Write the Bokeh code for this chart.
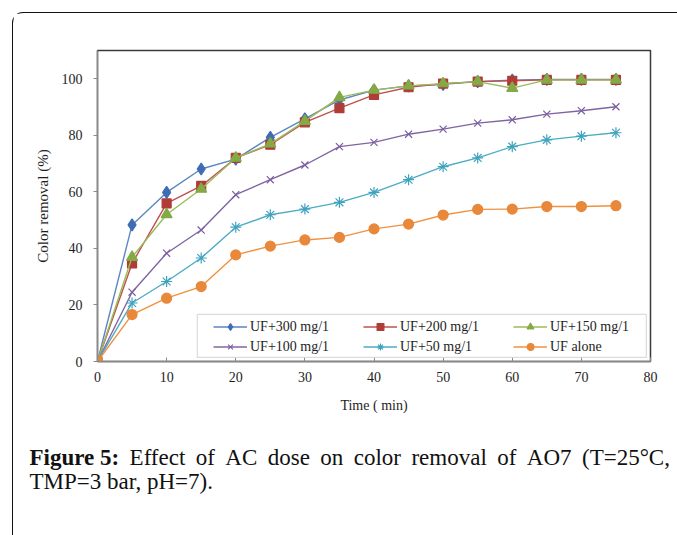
from bokeh.plotting import figure
from bokeh.layouts import column
from bokeh.models import Legend, LegendItem, BoxAnnotation, Range1d, FixedTicker, Div
from bokeh.embed import file_html
from bokeh.resources import INLINE

# Colour removal (%) versus filtration time for each activated-carbon dose
time_min = [0, 5, 10, 15, 20, 25, 30, 35, 40, 45, 50, 55, 60, 65, 70, 75]
uf_300 = [0, 48.3, 59.8, 68.1, 71.6, 79.3, 85.8, 92.5, 96.0, 97.5, 98.0, 99.0, 99.5, 99.8, 99.8, 99.8]
uf_200 = [0, 34.7, 55.9, 62.1, 72.0, 76.7, 84.6, 89.6, 94.3, 97.0, 98.3, 99.0, 99.3, 99.6, 99.6, 99.6]
uf_150 = [0, 36.9, 52.0, 61.0, 72.0, 77.0, 85.0, 93.4, 96.0, 97.5, 98.3, 99.0, 96.7, 99.6, 99.6, 99.6]
uf_100 = [0, 24.5, 38.3, 46.5, 59.0, 64.3, 69.5, 76.0, 77.5, 80.4, 82.2, 84.3, 85.5, 87.5, 88.7, 90.1]
uf_50 = [0, 20.7, 28.3, 36.6, 47.5, 51.9, 53.9, 56.3, 59.8, 64.3, 68.9, 72.0, 76.0, 78.4, 79.7, 80.9]
uf_alone = [0, 16.6, 22.4, 26.5, 37.7, 40.8, 43.0, 43.9, 46.9, 48.6, 51.8, 53.8, 53.9, 54.8, 54.8, 55.1]

series_labels = ["UF+300 mg/1", "UF+200 mg/1", "UF+150 mg/1",
                 "UF+100 mg/1", "UF+50 mg/1", "UF alone"]
series_values = [uf_300, uf_200, uf_150, uf_100, uf_50, uf_alone]

x_ticks = [0, 10, 20, 30, 40, 50, 60, 70, 80]
y_ticks = [0, 20, 40, 60, 80, 100]

caption_head = "Figure 5:"
caption_line1 = "Effect of AC dose on color removal of AO7 (T=25°C,"
caption_line2 = "TMP=3 bar, pH=7)."

line_colors = ["#5B86C0", "#C0504D", "#9BBB59", "#8064A2", "#4BACC6", "#F0913F"]
marker_colors = ["#3F6DB3", "#B03C38", "#83AA45", "#7A5E9E", "#3FA3BD", "#E8883A"]
markers = ["diamond", "square", "triangle", "x", "asterisk", "circle"]
marker_sizes = [12, 9, 11, 10, 11, 10]

SERIF = "Liberation Serif"
INK = "#1E1E1E"
AXIS_GREY = "#8A8A8A"

# ---- chart --------------------------------------------------------------
p = figure(width=663, height=410, output_backend="svg", toolbar_location=None,
           x_range=Range1d(0, 80), y_range=Range1d(0, 110),
           min_border_left=84, min_border_right=26,
           min_border_top=37, min_border_bottom=62,
           background_fill_color="white", border_fill_color="white")

p.grid.visible = False
p.outline_line_color = "#3A3A3A"
p.outline_line_width = 1.5

xa = p.xaxis[0]
xa.ticker = FixedTicker(ticks=x_ticks)
xa.axis_line_color = AXIS_GREY
xa.axis_line_width = 1.3
xa.major_tick_line_color = AXIS_GREY
xa.major_tick_in = 4
xa.major_tick_out = 0
xa.minor_tick_line_color = None
xa.major_label_text_font = SERIF
xa.major_label_text_font_size = "14px"
xa.major_label_text_color = INK
xa.major_label_standoff = 10
xa.axis_label = "Time ( min)"
xa.axis_label_text_font = SERIF
xa.axis_label_text_font_size = "14px"
xa.axis_label_text_font_style = "normal"
xa.axis_label_text_color = INK
xa.axis_label_standoff = 13

ya = p.yaxis[0]
ya.ticker = FixedTicker(ticks=y_ticks)
ya.axis_line_color = AXIS_GREY
ya.axis_line_width = 1.3
ya.major_tick_line_color = AXIS_GREY
ya.major_tick_in = 0
ya.major_tick_out = 4
ya.minor_tick_line_color = None
ya.major_label_text_font = SERIF
ya.major_label_text_font_size = "14px"
ya.major_label_text_color = INK
ya.major_label_standoff = 11
ya.axis_label = "Color removal (%)"
ya.axis_label_text_font = SERIF
ya.axis_label_text_font_size = "15px"
ya.axis_label_text_font_style = "normal"
ya.axis_label_text_color = INK
ya.axis_label_standoff = 8

items = []
for label, vals, lc, mc, mk, ms in zip(series_labels, series_values, line_colors,
                                        marker_colors, markers, marker_sizes):
    ln = p.line(time_min, vals, line_color=lc, line_width=1.4)
    sc = p.scatter(time_min, vals, marker=mk, size=ms,
                   fill_color=mc, line_color=mc, line_width=1.2)
    items.append(LegendItem(label=label, renderers=[ln, sc]))

# legend frame, drawn under the legend entries
legend_box = BoxAnnotation(left=14.44, right=79.4, bottom=1.45, top=16.7,
                           fill_color="white", fill_alpha=1.0,
                           line_color=AXIS_GREY, line_width=1.2)
p.add_layout(legend_box)

legend = Legend(items=items, orientation="horizontal", ncols=3,
                location=(116, 6), padding=0, margin=0, spacing=3,
                glyph_width=34, glyph_height=17, label_height=17,
                label_width=110, label_standoff=3,
                label_text_font=SERIF, label_text_font_size="14px",
                label_text_color=INK,
                border_line_color=None, background_fill_alpha=0)
p.add_layout(legend)

# ---- caption ------------------------------------------------------------
text_style = ("font-family:'Liberation Serif', serif; font-size:23px; "
              "line-height:24px; color:#111111;")
caption_html = (
    f'<div style="margin:18px 0 0 0; padding:0 0 0 11.5px; width:652px;">'
    f'<div style="{text_style} display:flex; justify-content:space-between;">'
    f'<b style="white-space:nowrap;">{caption_head}</b>'
    + "".join(f'<span>{w}</span>' for w in caption_line1.split(" "))
    + '</div>'
    f'<div style="{text_style}">{caption_line2}</div>'
    '</div>'
)
caption = Div(text=caption_html, width=663, height=111)

page = column(p, caption, spacing=0,
              styles={"margin-left": "12px", "margin-top": "12px",
                      "border-left": "1.5px solid #111111",
                      "border-top": "1.5px solid #111111",
                      "border-top-left-radius": "11px"})

open("out.html", "w").write(file_html(page, INLINE))
